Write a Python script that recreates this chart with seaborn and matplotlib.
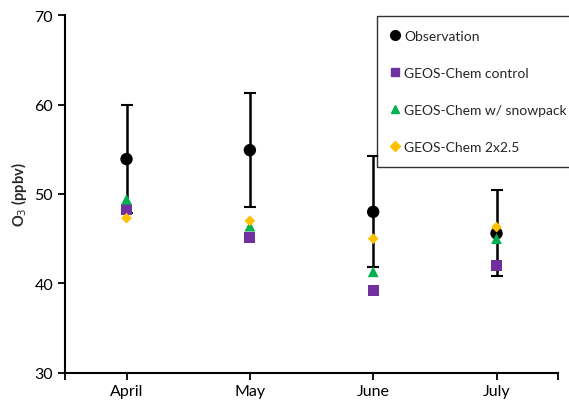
import numpy as np
import pandas as pd
import matplotlib
matplotlib.use("Agg")
import matplotlib.pyplot as plt
from matplotlib.lines import Line2D
import seaborn as sns

sns.set_style("ticks")
plt.rcParams["font.family"] = ["Lato", "DejaVu Sans"]

# -----------------------------------
# Data
# -----------------------------------
months = ["April", "May", "June", "July"]
obs = [53.9, 54.9, 48.0, 45.6]
obs_err = [6.0, 6.4, 6.2, 4.8]
control = [48.3, 45.1, 39.2, 42.0]
snowpack = [49.4, 46.4, 41.3, 45.0]
coarse = [47.3, 47.0, 45.0, 46.3]

series_names = ["Observation", "GEOS-Chem control", "GEOS-Chem w/ snowpack", "GEOS-Chem 2x2.5"]
colors = ["black", "#7030A0", "#00B050", "#FFC000"]
markers = ["o", "s", "^", "D"]
sizes = [80, 64, 60, 30]

df = pd.DataFrame({
    "Month": months * 4,
    "O3": obs + control + snowpack + coarse,
    "Series": np.repeat(series_names, len(months)),
})

# -----------------------------------
# Plot
# -----------------------------------
fig = plt.figure(figsize=(5.69, 4.02), dpi=100)
ax = fig.add_axes([0.114, 0.070, 0.867, 0.890])

x = np.arange(len(months))
ax.errorbar(x, obs, yerr=obs_err, fmt="none", ecolor="black", elinewidth=1.8,
            capsize=4, capthick=1.5, zorder=1)

# observation first, model runs on top
for name, col, mk, sz in zip(series_names, colors, markers, sizes):
    sub = df[df["Series"] == name]
    sns.scatterplot(data=sub, x="Month", y="O3", color=col, marker=mk, s=sz,
                    edgecolor="none", ax=ax, zorder=2 if name == "Observation" else 3,
                    legend=False)

ax.set_xlim(-0.5, 3.5)
ax.set_ylim(30, 70)
ax.set_yticks([30, 40, 50, 60, 70])
ax.set_xlabel("")
ax.set_ylabel("O$_3$ (ppbv)", fontsize=10.5, fontweight="bold", labelpad=4)
ax.set_xticks([-0.5, 3.5], minor=True)
ax.tick_params(axis="both", which="both", direction="out", length=5, width=1.3,
               colors="black", labelsize=11.5)
ax.tick_params(axis="x", pad=3)
for side in ["top", "right"]:
    ax.spines[side].set_visible(False)
for side in ["left", "bottom"]:
    ax.spines[side].set_linewidth(1.5)
    ax.spines[side].set_color("black")

handles = [Line2D([], [], linestyle="none", marker=m, color=c, markersize=s)
           for m, c, s in zip(markers, colors, [7, 6, 6, 5])]
leg = fig.legend(handles, series_names, loc="upper left",
                 bbox_to_anchor=(0.662, 0.957), frameon=True, fancybox=False,
                 fontsize=10, labelspacing=1.8, handlelength=0.7,
                 handletextpad=0.3, borderpad=1.0, borderaxespad=0)
leg.get_frame().set_edgecolor("black")
leg.get_frame().set_linewidth(1.0)

fig.savefig("out.png", dpi=100)
